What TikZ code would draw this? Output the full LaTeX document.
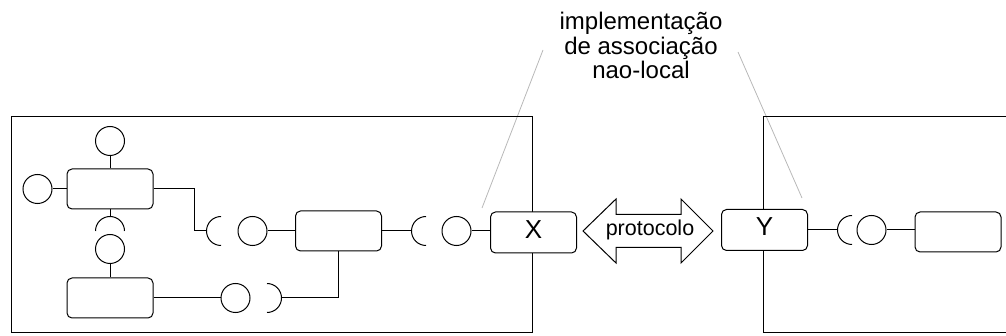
\documentclass[tikz,border=0pt]{standalone}
\usepackage{fontspec}
\setmainfont{Liberation Sans}
\begin{document}
\begin{tikzpicture}[x=1pt,y=-1pt,
  wire/.style={line width=1pt, draw=black},
  comp/.style={draw=black, line width=1pt, rounded corners=5pt, fill=white,
    minimum width=86pt, minimum height=40pt, inner sep=0pt},
  named/.style={comp, minimum height=41pt, font=\fontsize{26}{28}\selectfont,
    text height=18.6pt, text depth=7pt},
  iface/.style={draw=black, line width=1pt, circle, minimum size=29pt, inner sep=0pt},
  leader/.style={draw=black!28, line width=0.8pt},
  noteline/.style={font=\fontsize{24}{24.5}\selectfont, inner sep=0pt, anchor=base},
  tag/.style={font=\fontsize{21.5}{24}\selectfont, inner sep=0pt}]
\useasboundingbox (0,0) rectangle (1006,336);

% leader lines from the note to the two boundary components
\coordinate (lt1) at (543,50);
\coordinate (lb1) at (482,208);
\coordinate (lt2) at (738,52);
\coordinate (lb2) at (802,198);
\draw[leader] (lt1) -- (lb1);
\draw[leader] (lt2) -- (lb2);

% the two subsystems
\draw[wire] (11,117) rectangle (532,333);
\draw[wire] (1006,117) -- (763,117) -- (763,333) -- (1006,333);

% note, one line per row
\node[noteline] (impl1) at (641,30) {implementação};
\node[noteline] (impl2) at (641,54.5) {de associação};
\node[noteline] (impl3) at (641,79) {nao-local};

% ---- left subsystem ----
\node[comp] (a) at (110,189) {};
\node[iface] (a1) at (110,141) {};
\node[iface] (a2) at (37.5,189) {};
\coordinate (s1) at (110,231);
\coordinate (s1top) at (110,216.5);
\node[iface] (b1) at (110,249) {};
\node[comp] (d) at (110,298) {};
\node[iface] (e1) at (235.5,298) {};
\coordinate (f) at (267,298);
\coordinate (fR) at (281.5,298);
\coordinate (g) at (221,231);
\coordinate (gL) at (206.5,231);
\coordinate (bend) at (194,231);
\node[iface] (h1) at (252.5,231) {};
\node[comp] (m) at (338.5,231) {};
\coordinate (k) at (426,231);
\coordinate (kL) at (411.5,231);
\node[iface] (l1) at (456.5,231) {};
\node[named] (x) at (533.5,232.5) {X};

% sockets
\draw[wire] (s1) ++(-14.5pt,0pt) arc[start angle=180, end angle=0, radius=14.5pt];
\draw[wire] (f) ++(0pt,14.5pt) arc[start angle=90, end angle=-90, radius=14.5pt];
\draw[wire] (g) ++(0pt,14.5pt) arc[start angle=90, end angle=270, radius=14.5pt];
\draw[wire] (k) ++(0pt,14.5pt) arc[start angle=90, end angle=270, radius=14.5pt];

% wiring
\draw[wire] (a1) -- (a);
\draw[wire] (a2) -- (a);
\draw[wire] (a.south) -- (s1top);
\draw[wire] (b1) -- (d);
\draw[wire] (d) -- (e1);
\draw[wire] (fR) -| (m.south);
\draw[wire] (a.east) -| (bend) -- (gL);
\draw[wire] (h1) -- (m);
\draw[wire] (m) -- (kL);
\draw[wire] (l1) -- (l1 -| x.west);

% ---- protocol between the subsystems ----
\draw[wire, fill=white] (583,231) -- (616,199) -- (616,214.5) -- (681,214.5) -- (681,199)
  -- (713,231) -- (681,263) -- (681,247.5) -- (616,247.5) -- (616,263) -- cycle;
\node[tag, anchor=base] (proto) at (650,235.5) {protocolo};

% ---- right subsystem ----
\node[named] (y) at (764.5,230) {Y};
\coordinate (n) at (852,230);
\coordinate (nL) at (837.5,230);
\node[iface] (o1) at (871.5,230) {};
\node[comp] (r) at (958,232) {};
\draw[wire] (n) ++(0pt,14.5pt) arc[start angle=90, end angle=270, radius=14.5pt];
\draw[wire] (y.east |- nL) -- (nL);
\draw[wire] (o1.east) -- (o1.east -| r.west);
\end{tikzpicture}
\end{document}
